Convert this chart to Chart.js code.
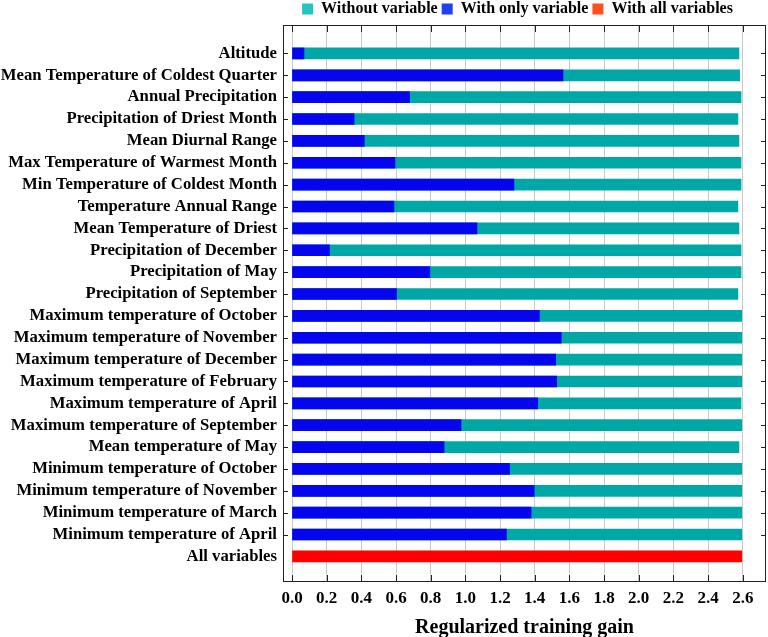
<!DOCTYPE html>
<html>
<head>
<meta charset="utf-8">
<script src="https://cdn.jsdelivr.net/npm/chart.js@4.4.1/dist/chart.umd.min.js"></script>
<style>
  html, body { margin: 0; padding: 0; background: #fff; }
  #wrap { width: 768px; height: 637px; position: relative; }
</style>
</head>
<body>
<div id="wrap"><canvas id="myChart"></canvas></div>
<script>
// variables, top to bottom
var variables = [
    "Altitude",
    "Mean Temperature of Coldest Quarter",
    "Annual Precipitation",
    "Precipitation of Driest Month",
    "Mean Diurnal Range",
    "Max Temperature of Warmest Month",
    "Min Temperature of Coldest Month",
    "Temperature Annual Range",
    "Mean Temperature of Driest",
    "Precipitation of December",
    "Precipitation of May",
    "Precipitation of September",
    "Maximum temperature of October",
    "Maximum temperature of November",
    "Maximum temperature of December",
    "Maximum temperature of February",
    "Maximum temperature of April",
    "Maximum temperature of September",
    "Mean temperature of May",
    "Minimum temperature of October",
    "Minimum temperature of November",
    "Minimum temperature of March",
    "Minimum temperature of April",
    "All variables"
];

// jackknife gains (null = no bar in that row)
var withoutVariable = [2.578, 2.582, 2.590, 2.572, 2.578, 2.590, 2.590, 2.572, 2.578, 2.590, 2.590, 2.572,
    2.594, 2.594, 2.594, 2.594, 2.590, 2.594, 2.578, 2.594, 2.594, 2.594, 2.594, null];
var withOnlyVariable = [0.069, 1.563, 0.678, 0.358, 0.417, 0.594, 1.280, 0.588, 1.067, 0.216, 0.795, 0.603,
    1.427, 1.553, 1.521, 1.527, 1.417, 0.975, 0.877, 1.255, 1.397, 1.379, 1.237, null];
var withAllVariables = [null, null, null, null, null, null, null, null, null, null, null, null,
    null, null, null, null, null, null, null, null, null, null, null, 2.594];

var xTicks = [0, 0.2, 0.4, 0.6, 0.8, 1.0, 1.2, 1.4, 1.6, 1.8, 2.0, 2.2, 2.4, 2.6];

var legendColors = ["#22c4c4", "#1f3ff0", "#ff4f1f"];

Chart.defaults.font.family = "'Liberation Serif', 'Times New Roman', serif";
Chart.defaults.font.weight = "bold";
Chart.defaults.color = "#000";

// bars sit on a numeric row axis so the top/bottom gaps can match
function toPoints(arr) {
    var pts = [];
    for (var i = 0; i < arr.length; i++) {
        if (arr[i] !== null) pts.push({ x: arr[i], y: i });
    }
    return pts;
}

// legend: fixed height, nudged up/left after layout
var legendPlugin = {
    id: "legendTweak",
    beforeInit: function (chart) {
        var lg = chart.legend;
        var origFit = lg.fit;
        lg.fit = function () {
            origFit.call(this);
            this.height = 25;
        };
    },
    afterLayout: function (chart) {
        var lg = chart.legend;
        lg.top -= 3; lg.bottom -= 3;
        lg.left -= 7; lg.right -= 7;
    }
};

// frame with inward ticks on all four sides
var framePlugin = {
    id: "frame",
    afterDatasetsDraw: function (chart) {
        var ctx = chart.ctx, a = chart.chartArea;
        var xs = chart.scales.x, ys = chart.scales.y;
        ctx.save();
        ctx.strokeStyle = "#222";
        ctx.lineWidth = 1;
        ctx.strokeRect(Math.round(a.left) + 0.5, Math.round(a.top) + 0.5,
            Math.round(a.right - a.left) - 1, Math.round(a.bottom - a.top) - 1);
        ctx.beginPath();
        for (var i = 0; i < xTicks.length; i++) {
            var px = Math.round(xs.getPixelForValue(xTicks[i])) + 0.5;
            ctx.moveTo(px, a.bottom); ctx.lineTo(px, a.bottom - 7);
            ctx.moveTo(px, a.top); ctx.lineTo(px, a.top + 7);
        }
        for (var j = 0; j < variables.length - 1; j++) {
            var py = Math.round(ys.getPixelForValue(j)) + 0.5;
            ctx.moveTo(a.left, py); ctx.lineTo(a.left + 5, py);
            ctx.moveTo(a.right, py); ctx.lineTo(a.right - 5, py);
        }
        ctx.stroke();
        ctx.restore();
    }
};

var ctx = document.getElementById("myChart");
var myChart = new Chart(ctx, {
    type: "bar",
    data: {
        datasets: [
            { label: "Without variable", data: toPoints(withoutVariable), backgroundColor: "#00a7a7", order: 1 },
            { label: "With only variable", data: toPoints(withOnlyVariable), backgroundColor: "#0606ee", order: 0 },
            { label: "With all variables", data: toPoints(withAllVariables), backgroundColor: "#ff0000", order: 2 }
        ]
    },
    options: {
        indexAxis: "y",
        responsive: true,
        maintainAspectRatio: false,
        animation: false,
        layout: { padding: { top: 0, right: 2, bottom: 0, left: 0 } },
        datasets: { bar: { grouped: false, barThickness: 11 } },
        plugins: {
            tooltip: { enabled: false },
            legend: {
                position: "top",
                fullSize: false,
                labels: {
                    boxWidth: 11,
                    boxHeight: 11,
                    padding: 4,
                    font: { size: 16, weight: "bold" },
                    sort: function (a, b) { return a.datasetIndex - b.datasetIndex; },
                    generateLabels: function (chart) {
                        var items = Chart.defaults.plugins.legend.labels.generateLabels(chart);
                        items.forEach(function (it) {
                            it.fillStyle = legendColors[it.datasetIndex];
                            it.strokeStyle = legendColors[it.datasetIndex];
                            it.lineWidth = 0;
                        });
                        return items;
                    }
                }
            }
        },
        scales: {
            x: {
                type: "linear",
                min: -0.052,
                max: 2.734,
                afterBuildTicks: function (scale) {
                    scale.ticks = xTicks.map(function (v) { return { value: v }; });
                },
                afterFit: function (scale) { scale.height = 55; },
                grid: { color: "#c9c9c9", drawTicks: false },
                border: { display: false },
                ticks: {
                    padding: 6,
                    font: { size: 17, weight: "bold", lineHeight: 1.2 },
                    callback: function (v) { return Number(v).toFixed(1); }
                },
                title: {
                    display: true,
                    text: "Regularized training gain",
                    font: { size: 20, weight: "bold", lineHeight: 1 },
                    padding: { top: 8, bottom: -1 }
                }
            },
            y: {
                type: "linear",
                reverse: true,
                offset: false,
                min: -1.3,
                max: 24.17,
                afterBuildTicks: function (scale) {
                    scale.ticks = variables.map(function (v, i) { return { value: i }; });
                },
                afterFit: function (scale) { scale.width = 283; },
                grid: { display: false, drawTicks: false, offset: false },
                border: { display: false },
                ticks: {
                    padding: 6,
                    autoSkip: false,
                    font: { size: 16.7, weight: "bold" },
                    callback: function (v) { return variables[v]; }
                }
            }
        }
    },
    plugins: [legendPlugin, framePlugin]
});
</script>
</body>
</html>
